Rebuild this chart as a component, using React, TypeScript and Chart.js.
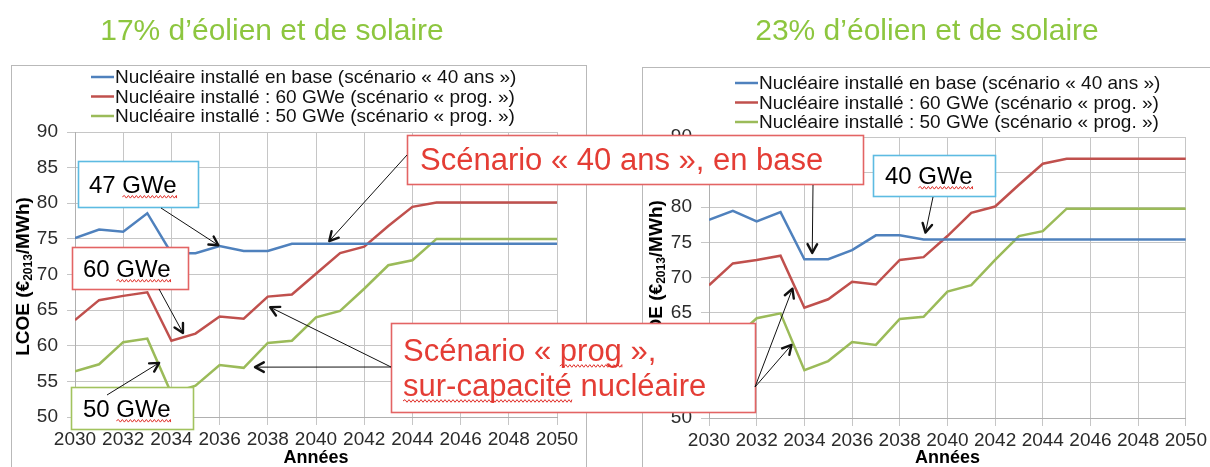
import React, { useEffect, useRef } from 'react';
import { Chart, registerables } from 'chart.js';

Chart.register(...registerables);

const FONT = "'Liberation Sans', Arial, Helvetica, sans-serif";

// ---------- data ----------
const years = [2030, 2031, 2032, 2033, 2034, 2035, 2036, 2037, 2038, 2039, 2040, 2041, 2042, 2043, 2044, 2045, 2046, 2047, 2048, 2049, 2050];
const xTickValues = [2030, 2032, 2034, 2036, 2038, 2040, 2042, 2044, 2046, 2048, 2050];
const yTickValues = [50, 55, 60, 65, 70, 75, 80, 85, 90];

const seriesLabels = [
  'Nucléaire installé en base (scénario « 40 ans »)',
  'Nucléaire installé : 60 GWe (scénario « prog. »)',
  'Nucléaire installé : 50 GWe (scénario « prog. »)',
];
const seriesColors = ['#4F81BD', '#C0504D', '#9BBB59'];

const panelTitles = ['17% d’éolien et de solaire', '23% d’éolien et de solaire'];
const yAxisTitle = ['LCOE (€', '2013', '/MWh)'];
const xAxisTitle = 'Années';

// 17 % wind + solar
const left40ans = [75.1, 76.3, 76.0, 78.6, 73.0, 73.0, 74.0, 73.3, 73.3, 74.3, 74.3, 74.3, 74.3, 74.3, 74.3, 74.3, 74.3, 74.3, 74.3, 74.3, 74.3];
const left60 = [63.6, 66.4, 67.0, 67.5, 60.7, 61.7, 64.1, 63.8, 66.9, 67.2, 70.1, 73.0, 73.9, 76.8, 79.5, 80.1, 80.1, 80.1, 80.1, 80.1, 80.1];
const left50 = [56.4, 57.4, 60.5, 61.0, 53.3, 54.4, 57.3, 56.9, 60.4, 60.7, 64.0, 64.9, 68.0, 71.3, 72.0, 75.0, 75.0, 75.0, 75.0, 75.0, 75.0];

// 23 % wind + solar
const right40ans = [78.2, 79.5, 78.0, 79.3, 72.6, 72.6, 73.9, 76.0, 76.0, 75.4, 75.4, 75.4, 75.4, 75.4, 75.4, 75.4, 75.4, 75.4, 75.4, 75.4, 75.4];
const right60 = [68.9, 72.0, 72.5, 73.1, 65.7, 66.9, 69.4, 69.0, 72.5, 72.9, 75.9, 79.2, 80.1, 83.2, 86.2, 86.9, 86.9, 86.9, 86.9, 86.9, 86.9];
const right50 = [60.1, 61.1, 64.2, 64.9, 56.8, 58.1, 60.8, 60.4, 64.1, 64.4, 68.0, 68.9, 72.5, 75.9, 76.6, 79.8, 79.8, 79.8, 79.8, 79.8, 79.8];

// ---------- layout (pixels) ----------
const W = 1210;
const H = 467;
const panels = [
  { padLeft: 0, padRight: 653, padTop: 132, axisH: 50, frame: [11.5, 65.5, 575, 430], titleX: 272, legendX: 91, legendY: 77, yTitleOffset: 51 },
  { padLeft: 634, padRight: 21, padTop: 137, axisH: 49, frame: [642.5, 67.5, 600, 430], titleX: 927, legendX: 735, legendY: 83, yTitleOffset: 52 },
];

const RED_TEXT = '#E43D35';
const RED_BORDER = '#E36464';
const BLUE_BORDER = '#5DBBE2';
const GREEN_BORDER = '#A2C35E';

const callouts = [
  { lines: ['47 GWe'], rect: [78, 161, 120, 46], border: BLUE_BORDER, color: '#000', size: 24, textX: 89, lineY: [186], wavy: [['47 ', 'GWe']] },
  { lines: ['60 GWe'], rect: [72, 247, 116, 42], border: RED_BORDER, color: '#000', size: 24, textX: 83, lineY: [270], wavy: [['60 ', 'GWe']] },
  { lines: ['50 GWe'], rect: [71, 387, 122, 42], border: GREEN_BORDER, color: '#000', size: 24, textX: 83, lineY: [410], wavy: [['50 ', 'GWe']] },
  { lines: ['40 GWe'], rect: [873, 155, 122, 41], border: BLUE_BORDER, color: '#000', size: 24, textX: 885, lineY: [177], wavy: [['40 ', 'GWe']] },
  { lines: ['Scénario « 40 ans », en base'], rect: [407, 135, 456, 49], border: RED_BORDER, color: RED_TEXT, size: 31, textX: 420, lineY: [161], wavy: [null] },
  { lines: ['Scénario « prog »,', 'sur-capacité nucléaire'], rect: [391, 323, 364, 89], border: RED_BORDER, color: RED_TEXT, size: 31, textX: 403, lineY: [352, 387], wavy: [['Scénario « ', 'prog'], ['', 'sur-capacité']] },
];

// arrows: tail in page pixels, tip in data coordinates of panel 0 (left) or 1 (right)
const arrows = [
  { from: [161, 208], panel: 0, to: [2035.95, 74.1] },
  { from: [407, 155], panel: 0, to: [2040.55, 74.7] },
  { from: [159, 289], panel: 0, to: [2034.48, 61.8] },
  { from: [107, 395], panel: 0, to: [2033.49, 57.6] },
  { from: [391, 367], panel: 0, to: [2038.1, 65.4] },
  { from: [391, 367], panel: 0, to: [2037.47, 57.0] },
  { from: [813, 185], panel: 1, to: [2034.33, 73.5] },
  { from: [933, 197], panel: 1, to: [2039.08, 76.4] },
  { from: [755, 387], panel: 1, to: [2033.5, 68.4] },
  { from: [755, 387], panel: 1, to: [2033.46, 60.4] },
];

// ---------- drawing helpers ----------
function drawWavy(ctx: CanvasRenderingContext2D, x0: number, x1: number, y: number) {
  ctx.save();
  ctx.strokeStyle = '#E0302A';
  ctx.lineWidth = 1;
  ctx.beginPath();
  ctx.moveTo(x0, y);
  let up = true;
  for (let x = x0; x < x1; x += 2) {
    ctx.lineTo(Math.min(x + 2, x1), y + (up ? -1.3 : 1.3));
    up = !up;
  }
  ctx.stroke();
  ctx.restore();
}

function drawArrow(ctx: CanvasRenderingContext2D, x0: number, y0: number, x1: number, y1: number) {
  ctx.save();
  ctx.strokeStyle = '#111';
  ctx.lineWidth = 1;
  ctx.beginPath();
  ctx.moveTo(x0, y0);
  ctx.lineTo(x1, y1);
  ctx.stroke();
  const a = Math.atan2(y1 - y0, x1 - x0);
  const L = 10;
  const sp = 0.5;
  ctx.lineWidth = 2.4;
  ctx.lineCap = 'round';
  ctx.lineJoin = 'round';
  ctx.beginPath();
  ctx.moveTo(x1 - L * Math.cos(a - sp), y1 - L * Math.sin(a - sp));
  ctx.lineTo(x1, y1);
  ctx.lineTo(x1 - L * Math.cos(a + sp), y1 - L * Math.sin(a + sp));
  ctx.stroke();
  ctx.restore();
}

function drawYTitle(ctx: CanvasRenderingContext2D, cx: number, cy: number) {
  const big = `bold 19px ${FONT}`;
  const small = `bold 12px ${FONT}`;
  ctx.save();
  ctx.translate(cx, cy);
  ctx.rotate(-Math.PI / 2);
  ctx.fillStyle = '#000';
  ctx.textBaseline = 'middle';
  ctx.textAlign = 'left';
  ctx.font = big;
  const w0 = ctx.measureText(yAxisTitle[0]).width;
  const w2 = ctx.measureText(yAxisTitle[2]).width;
  ctx.font = small;
  const w1 = ctx.measureText(yAxisTitle[1]).width;
  let x = -(w0 + w1 + w2) / 2;
  ctx.font = big;
  ctx.fillText(yAxisTitle[0], x, 0);
  x += w0;
  ctx.font = small;
  ctx.fillText(yAxisTitle[1], x, 5);
  x += w1;
  ctx.font = big;
  ctx.fillText(yAxisTitle[2], x, 0);
  ctx.restore();
}

function panelPlugin(idx: number) {
  const p = panels[idx];
  return {
    id: 'panel' + idx,
    beforeDraw(chart: any) {
      const ctx = chart.ctx;
      ctx.save();
      ctx.strokeStyle = '#b9b9b9';
      ctx.lineWidth = 1;
      const [fx, fy, fw, fh] = p.frame;
      ctx.strokeRect(fx, fy, fw, fh);
      ctx.restore();
    },
    afterDraw(chart: any) {
      const ctx = chart.ctx;
      const area = chart.chartArea;
      // panel title
      ctx.save();
      ctx.fillStyle = '#8DC63F';
      ctx.font = `30px ${FONT}`;
      ctx.textAlign = 'center';
      ctx.textBaseline = 'middle';
      ctx.fillText(panelTitles[idx], p.titleX, 32);
      ctx.restore();
      // legend
      ctx.save();
      ctx.font = `19px ${FONT}`;
      ctx.textBaseline = 'middle';
      ctx.textAlign = 'left';
      chart.data.datasets.forEach((ds: any, i: number) => {
        const y = p.legendY + i * 19.5;
        ctx.strokeStyle = ds.borderColor;
        ctx.lineWidth = 2.5;
        ctx.beginPath();
        ctx.moveTo(p.legendX, y);
        ctx.lineTo(p.legendX + 23, y);
        ctx.stroke();
        ctx.fillStyle = '#111';
        ctx.fillText(ds.label, p.legendX + 24, y + 1);
      });
      ctx.restore();
      // y axis title
      drawYTitle(ctx, area.left - p.yTitleOffset, (area.top + area.bottom) / 2 + 2);
    },
  };
}

function annotationPlugin(getCharts: () => any[]) {
  return {
    id: 'annotations',
    afterDraw(chart: any) {
      const ctx = chart.ctx;
      const charts = getCharts();
      callouts.forEach((c) => {
        const [x, y, w, h] = c.rect;
        ctx.save();
        ctx.fillStyle = '#fff';
        ctx.fillRect(x, y, w, h);
        ctx.strokeStyle = c.border;
        ctx.lineWidth = 1.6;
        ctx.strokeRect(x + 0.5, y + 0.5, w, h);
        ctx.font = `${c.size}px ${FONT}`;
        ctx.fillStyle = c.color;
        ctx.textAlign = 'left';
        ctx.textBaseline = 'middle';
        c.lines.forEach((line, i) => {
          ctx.fillText(line, c.textX, c.lineY[i]);
          const wv = c.wavy[i];
          if (wv) {
            const x0 = c.textX + ctx.measureText(wv[0]).width;
            const x1 = x0 + ctx.measureText(wv[1]).width;
            drawWavy(ctx, x0, x1, c.lineY[i] + c.size * 0.45);
          }
        });
        ctx.restore();
      });
      arrows.forEach((a) => {
        const ch = charts[a.panel];
        if (!ch) return;
        const tx = ch.scales.x.getPixelForValue(a.to[0]);
        const ty = ch.scales.y.getPixelForValue(a.to[1]);
        drawArrow(ctx, a.from[0], a.from[1], tx, ty);
      });
    },
  };
}

function makeConfig(idx: number, values: number[][], extra: any[]) {
  const p = panels[idx];
  return {
    type: 'line',
    data: {
      datasets: values.map((vals, i) => ({
        label: seriesLabels[i],
        data: years.map((yr, j) => ({ x: yr, y: vals[j] })),
        borderColor: seriesColors[i],
        backgroundColor: seriesColors[i],
        borderWidth: 2.5,
        pointRadius: 0,
        tension: 0,
        fill: false,
      })),
    },
    options: {
      responsive: false,
      animation: false,
      events: [],
      layout: { padding: { left: p.padLeft, right: p.padRight, top: p.padTop, bottom: 0 } },
      plugins: {
        legend: { display: false },
        title: { display: false },
        tooltip: { enabled: false },
      },
      scales: {
        x: {
          type: 'linear',
          min: years[0],
          max: years[years.length - 1],
          afterBuildTicks: (s: any) => {
            s.ticks = xTickValues.map((v) => ({ value: v }));
          },
          afterFit: (s: any) => {
            s.height = p.axisH;
          },
          ticks: {
            callback: (v: any) => String(v),
            autoSkip: false,
            maxRotation: 0,
            minRotation: 0,
            padding: 3,
            color: '#2b2b2b',
            font: { family: FONT, size: 19 },
          },
          grid: { color: '#c6c6c6', lineWidth: 1, tickLength: 8 },
          border: { color: '#b0b0b0' },
          title: {
            display: true,
            text: xAxisTitle,
            color: '#000',
            font: { family: FONT, size: 18, weight: 'bold', lineHeight: 1 },
            padding: { top: 0, bottom: 0 },
          },
        },
        y: {
          type: 'linear',
          min: yTickValues[0],
          max: yTickValues[yTickValues.length - 1],
          afterBuildTicks: (s: any) => {
            s.ticks = yTickValues.map((v) => ({ value: v }));
          },
          afterFit: (s: any) => {
            s.width = 75;
          },
          ticks: {
            padding: 9,
            color: '#2b2b2b',
            font: { family: FONT, size: 19 },
          },
          grid: { color: '#c6c6c6', lineWidth: 1, tickLength: 8 },
          border: { color: '#b0b0b0' },
        },
      },
    },
    plugins: [panelPlugin(idx), ...extra],
  } as any;
}

export default function App() {
  const leftRef = useRef<HTMLCanvasElement>(null);
  const rightRef = useRef<HTMLCanvasElement>(null);

  useEffect(() => {
    const charts: any[] = [];
    const left = new Chart(leftRef.current as HTMLCanvasElement, makeConfig(0, [left40ans, left60, left50], []));
    charts.push(left);
    const right = new Chart(
      rightRef.current as HTMLCanvasElement,
      makeConfig(1, [right40ans, right60, right50], [annotationPlugin(() => charts)])
    );
    charts.push(right);
    right.draw();
    return () => {
      right.destroy();
      left.destroy();
    };
  }, []);

  return (
    <div style={{ position: 'absolute', left: 0, top: 0, width: W, height: H, background: '#fff', overflow: 'hidden' }}>
      <canvas ref={leftRef} width={W} height={H} style={{ position: 'absolute', left: 0, top: 0 }} />
      <canvas ref={rightRef} width={W} height={H} style={{ position: 'absolute', left: 0, top: 0 }} />
    </div>
  );
}
